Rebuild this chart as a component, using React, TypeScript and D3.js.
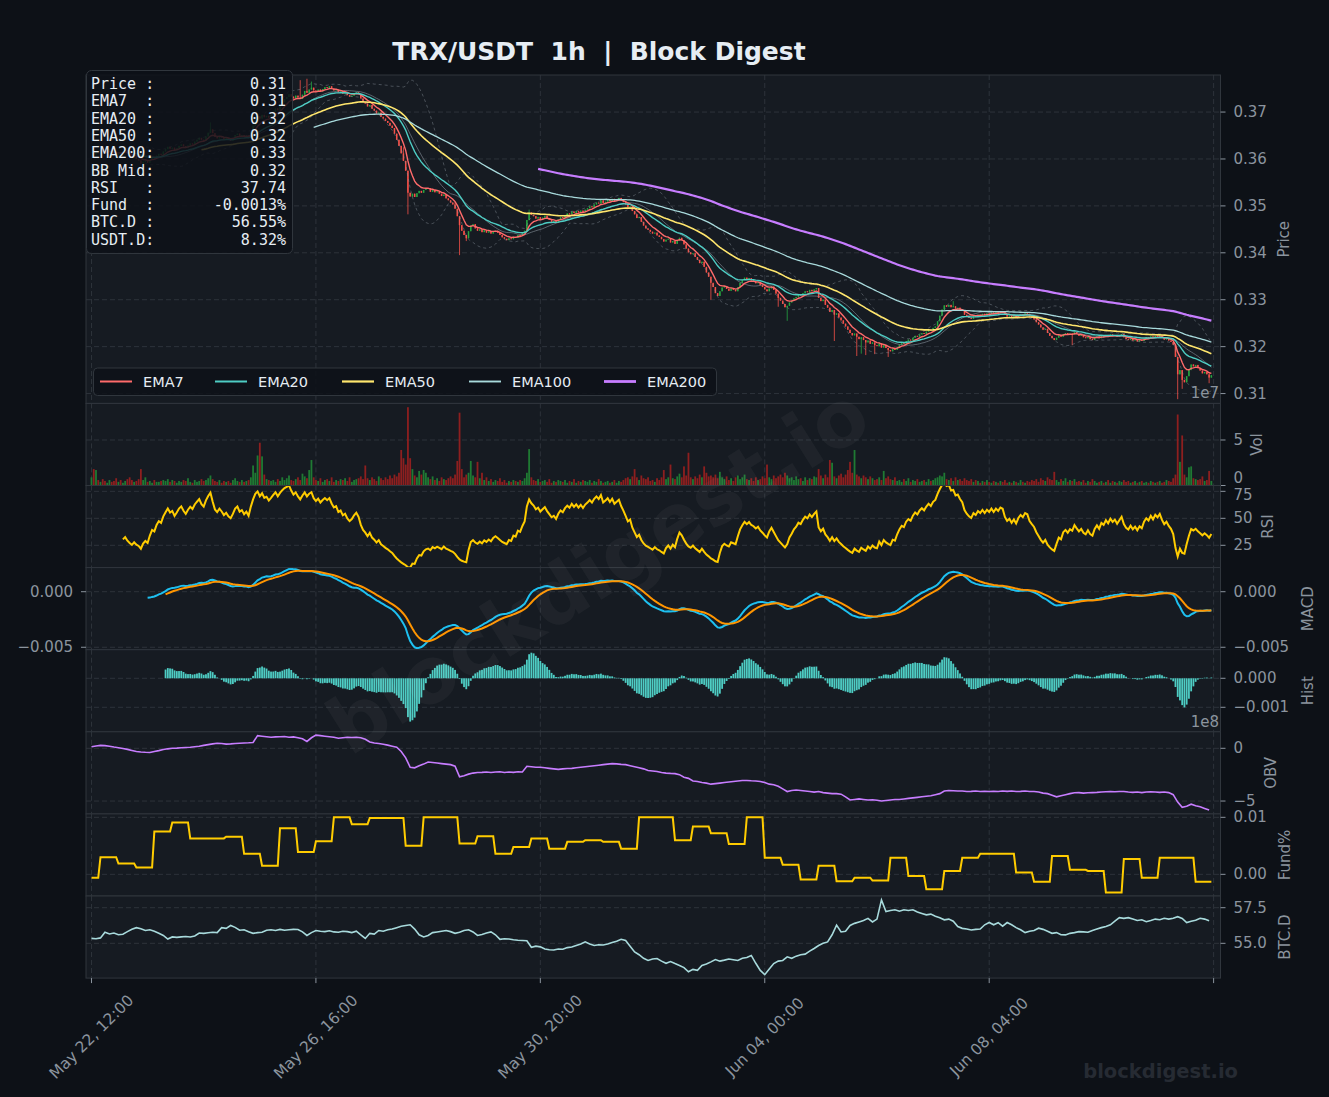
import React from 'react';
import * as d3 from 'd3';

// ---- data (hourly candles, May 22 12:00 -> Jun 12 07:00) ----
const CLOSE = [
  0.3615, 0.3609, 0.3614, 0.3612, 0.3619, 0.3615, 0.3611, 0.3616, 0.3621, 0.3615,
  0.3611, 0.3608, 0.3613, 0.3612, 0.3617, 0.3619, 0.3612, 0.3607, 0.3603, 0.3605,
  0.3600, 0.3597, 0.3590, 0.3594, 0.3596, 0.3592, 0.3598, 0.3603, 0.3601, 0.3607,
  0.3611, 0.3609, 0.3616, 0.3621, 0.3626, 0.3622, 0.3624, 0.3619, 0.3623, 0.3628,
  0.3631, 0.3627, 0.3624, 0.3629, 0.3633, 0.3631, 0.3637, 0.3641, 0.3645, 0.3641,
  0.3639, 0.3648, 0.3656, 0.3663, 0.3655, 0.3647, 0.3644, 0.3649, 0.3646, 0.3642,
  0.3645, 0.3641, 0.3639, 0.3644, 0.3651, 0.3654, 0.3649, 0.3651, 0.3647, 0.3650,
  0.3646, 0.3658, 0.3671, 0.3684, 0.3691, 0.3686, 0.3694, 0.3689, 0.3692, 0.3688,
  0.3694, 0.3701, 0.3708, 0.3704, 0.3713, 0.3721, 0.3728, 0.3732, 0.3738, 0.3733,
  0.3729, 0.3735, 0.3731, 0.3728, 0.3737, 0.3745, 0.3741, 0.3748, 0.3752, 0.3746,
  0.3743, 0.3748, 0.3744, 0.3749, 0.3753, 0.3751, 0.3755, 0.3750, 0.3746, 0.3748,
  0.3742, 0.3744, 0.3739, 0.3741, 0.3736, 0.3733, 0.3735, 0.3739, 0.3742, 0.3738,
  0.3729, 0.3722, 0.3718, 0.3712, 0.3715, 0.3707, 0.3703, 0.3697, 0.3699, 0.3690,
  0.3686, 0.3681, 0.3677, 0.3671, 0.3666, 0.3654, 0.3641, 0.3628, 0.3612, 0.3596,
  0.3575, 0.3528, 0.3520, 0.3526, 0.3519, 0.3527, 0.3532, 0.3528, 0.3534, 0.3537,
  0.3538, 0.3530, 0.3534, 0.3529, 0.3531, 0.3526, 0.3521, 0.3524, 0.3516, 0.3512,
  0.3507, 0.3503, 0.3494, 0.3478, 0.3459, 0.3447, 0.3438, 0.3431, 0.3446, 0.3458,
  0.3461, 0.3452, 0.3447, 0.3450, 0.3444, 0.3448, 0.3443, 0.3446, 0.3441, 0.3445,
  0.3447, 0.3443, 0.3438, 0.3433, 0.3430, 0.3427, 0.3431, 0.3429, 0.3434, 0.3432,
  0.3438, 0.3436, 0.3442, 0.3447, 0.3470, 0.3486, 0.3481, 0.3478, 0.3473, 0.3476,
  0.3471, 0.3475, 0.3479, 0.3474, 0.3470, 0.3466, 0.3468, 0.3464, 0.3471, 0.3476,
  0.3474, 0.3480, 0.3484, 0.3482, 0.3488, 0.3485, 0.3489, 0.3486, 0.3490, 0.3487,
  0.3492, 0.3495, 0.3499, 0.3497, 0.3503, 0.3507, 0.3505, 0.3512, 0.3506, 0.3509,
  0.3513, 0.3510, 0.3515, 0.3511, 0.3514, 0.3517, 0.3512, 0.3508, 0.3503, 0.3497,
  0.3499, 0.3489, 0.3482, 0.3474, 0.3476, 0.3466, 0.3458, 0.3452, 0.3449, 0.3445,
  0.3441, 0.3443, 0.3437, 0.3434, 0.3429, 0.3424, 0.3428, 0.3430, 0.3422, 0.3425,
  0.3419, 0.3426, 0.3432, 0.3427, 0.3418, 0.3409, 0.3401, 0.3397, 0.3399, 0.3391,
  0.3385, 0.3378, 0.3381, 0.3370, 0.3358, 0.3349, 0.3336, 0.3327, 0.3314, 0.3308,
  0.3318, 0.3326, 0.3329, 0.3323, 0.3319, 0.3324, 0.3321, 0.3318, 0.3327, 0.3336,
  0.3342, 0.3347, 0.3343, 0.3346, 0.3341, 0.3339, 0.3335, 0.3337, 0.3331, 0.3327,
  0.3322, 0.3318, 0.3324, 0.3328, 0.3321, 0.3313, 0.3304, 0.3298, 0.3291, 0.3284,
  0.3287, 0.3294, 0.3298, 0.3303, 0.3306, 0.3311, 0.3309, 0.3314, 0.3318, 0.3316,
  0.3321, 0.3318, 0.3322, 0.3325, 0.3304, 0.3297, 0.3300, 0.3289, 0.3283, 0.3274,
  0.3278, 0.3268, 0.3271, 0.3262, 0.3256, 0.3249, 0.3243, 0.3236, 0.3229, 0.3224,
  0.3228, 0.3221, 0.3216, 0.3220, 0.3214, 0.3209, 0.3213, 0.3206, 0.3209, 0.3203,
  0.3201, 0.3207, 0.3198, 0.3203, 0.3197, 0.3193, 0.3190, 0.3195, 0.3193, 0.3199,
  0.3204, 0.3208, 0.3206, 0.3212, 0.3215, 0.3213, 0.3219, 0.3223, 0.3221, 0.3226,
  0.3229, 0.3227, 0.3232, 0.3236, 0.3234, 0.3240, 0.3243, 0.3254, 0.3266, 0.3279,
  0.3288, 0.3285, 0.3289, 0.3284, 0.3286, 0.3281, 0.3283, 0.3279, 0.3276, 0.3268,
  0.3264, 0.3261, 0.3259, 0.3265, 0.3263, 0.3268, 0.3266, 0.3270, 0.3267, 0.3271,
  0.3269, 0.3273, 0.3270, 0.3274, 0.3272, 0.3276, 0.3275, 0.3268, 0.3264, 0.3266,
  0.3262, 0.3265, 0.3261, 0.3266, 0.3269, 0.3267, 0.3271, 0.3270, 0.3264, 0.3261,
  0.3258, 0.3252, 0.3247, 0.3241, 0.3236, 0.3238, 0.3229, 0.3223, 0.3218, 0.3214,
  0.3219, 0.3224, 0.3221, 0.3227, 0.3229, 0.3225, 0.3228, 0.3226, 0.3231, 0.3227,
  0.3223, 0.3225, 0.3220, 0.3218, 0.3221, 0.3216, 0.3214, 0.3219, 0.3222, 0.3218,
  0.3223, 0.3221, 0.3225, 0.3222, 0.3226, 0.3223, 0.3225, 0.3221, 0.3224, 0.3227,
  0.3220, 0.3216, 0.3214, 0.3217, 0.3213, 0.3215, 0.3211, 0.3214, 0.3212, 0.3217,
  0.3220, 0.3218, 0.3222, 0.3219, 0.3223, 0.3221, 0.3224, 0.3219, 0.3215, 0.3217,
  0.3213, 0.3210, 0.3204, 0.3178, 0.3141, 0.3150, 0.3129, 0.3124, 0.3137, 0.3150,
  0.3162, 0.3158, 0.3161, 0.3154, 0.3149, 0.3143, 0.3146, 0.3141, 0.3134, 0.3139,
];

// volume in millions
const VOLUME_M = [
  9, 18, 17, 6, 4, 7, 5, 3, 6, 4,
  5, 8, 4, 6, 3, 5, 7, 9, 6, 4,
  5, 7, 18, 6, 9, 4, 5, 3, 6, 4,
  4, 5, 6, 5, 7, 4, 6, 5, 3, 5,
  4, 6, 5, 8, 4, 3, 6, 4, 5, 7,
  5, 6, 8, 11, 7, 5, 4, 6, 3, 5,
  4, 5, 3, 6, 8, 5, 4, 6, 4, 5,
  6, 9, 22, 14, 33, 47, 32, 12, 7, 6,
  5, 6, 4, 7, 5, 9, 6, 8, 11, 6,
  5, 7, 9, 6, 13, 10, 8, 17, 28, 9,
  6, 5, 8, 4, 6, 7, 5, 9, 4, 6,
  5, 7, 6, 8, 5, 9, 4, 6, 7, 8,
  10, 7, 22, 8, 6, 9, 7, 5, 10, 8,
  6, 9, 7, 11, 8, 12, 10, 14, 39, 30,
  23, 86, 30, 18, 11, 9, 16, 12, 17, 14,
  9, 7, 10, 6, 8, 5, 9, 7, 6, 8,
  10, 8, 12, 27, 80, 18, 9, 12, 14, 27,
  11, 9, 26, 8, 14, 6, 9, 5, 7, 4,
  6, 5, 8, 4, 6, 3, 5, 4, 6, 5,
  4, 6, 5, 8, 14, 40, 9, 6, 5, 7,
  4, 5, 6, 4, 7, 3, 5, 4, 6, 5,
  4, 6, 3, 5, 4, 7, 3, 5, 4, 6,
  5, 4, 6, 3, 5, 4, 7, 5, 3, 4,
  5, 3, 4, 6, 3, 5, 4, 6, 8, 9,
  7, 10, 18, 9, 6, 11, 8, 7, 9, 5,
  6, 4, 8, 6, 9, 17, 7, 9, 23, 8,
  7, 10, 13, 9, 21, 11, 36, 9, 7, 10,
  8, 12, 9, 21, 14, 10, 11, 9, 12, 8,
  15, 9, 7, 10, 6, 8, 5, 9, 11, 7,
  9, 12, 7, 6, 8, 5, 9, 6, 7, 10,
  8, 23, 9, 7, 11, 8, 10, 12, 9, 14,
  11, 8, 9, 6, 10, 7, 8, 5, 9, 6,
  8, 7, 10, 9, 18, 11, 8, 12, 9, 28,
  25, 10, 8, 11, 13, 9, 12, 17, 26, 14,
  39, 12, 10, 8, 11, 9, 7, 10, 8, 6,
  7, 9, 6, 16, 8, 10, 7, 6, 9, 5,
  6, 4, 7, 5, 8, 4, 6, 5, 7, 4,
  5, 6, 4, 7, 5, 6, 8, 9, 11, 10,
  14, 7, 6, 8, 5, 9, 6, 7, 5, 8,
  6, 5, 7, 4, 6, 5, 3, 5, 4, 6,
  4, 3, 5, 4, 3, 5, 4, 6, 3, 4,
  3, 5, 4, 3, 6, 4, 3, 5, 4, 6,
  5, 7, 4, 8, 6, 5, 9, 7, 6, 15,
  6, 4, 7, 5, 8, 4, 6, 5, 7, 4,
  5, 4, 6, 3, 5, 4, 7, 5, 3, 4,
  5, 3, 4, 6, 3, 5, 4, 3, 5, 4,
  6, 4, 5, 3, 4, 5, 3, 4, 5, 3,
  4, 3, 5, 4, 3, 4, 5, 3, 4, 6,
  5, 4, 8, 12, 78, 26, 55, 12, 9, 20,
  21, 8, 7, 6, 7, 10, 5, 6, 16, 5,
];

// notable wicks: [hour, price]
const WICK_HIGH: [number, number][] = [
  [53, 0.3678], [93, 0.3768], [96, 0.3771], [98, 0.3765], [139, 0.3625], [162, 0.3508], [195, 0.3492], [384, 0.3297],
];
const WICK_LOW: [number, number][] = [
  [141, 0.3482], [164, 0.3395], [167, 0.3425], [276, 0.3300], [306, 0.3285], [310, 0.3255], [331, 0.3212],
  [341, 0.3180], [343, 0.3185], [345, 0.3182], [349, 0.3184], [355, 0.3178], [437, 0.3203], [484, 0.3088],
  [486, 0.3110], [498, 0.3122],
];

// funding rate in %, one value per 8h window (first window = first 4 hours)
const FUNDING_8H = [
  -0.0006, 0.0030, 0.0019, 0.0012, 0.0075, 0.0091, 0.0063, 0.0063, 0.0066, 0.0036,
  0.0015, 0.0081, 0.0039, 0.0058, 0.0100, 0.0088, 0.0099, 0.0099, 0.0050, 0.0100,
  0.0100, 0.0054, 0.0067, 0.0036, 0.0048, 0.0063, 0.0045, 0.0057, 0.0060, 0.0057,
  0.0045, 0.0100, 0.0100, 0.0060, 0.0084, 0.0072, 0.0053, 0.0100, 0.0029, 0.0017,
  -0.0009, 0.0015, -0.0012, -0.0006, -0.0011, 0.0029, -0.0003, -0.0026, 0.0006, 0.0029,
  0.0036, 0.0036, 0.0003, -0.0013, 0.0032, 0.0008, 0.0006, -0.0032, 0.0027, -0.0006,
  0.0029, 0.0029, -0.0013,
];

// OBV (x1e8), every 2 hours
const OBV_2H = [
  0.15, 0.22, 0.28, 0.25, 0.2, 0.12, 0.05, -0.02, -0.1, -0.2,
  -0.3, -0.35, -0.38, -0.4, -0.3, -0.22, -0.12, -0.05, 0.0, 0.02,
  0.05, 0.08, 0.1, 0.15, 0.2, 0.28, 0.35, 0.42, 0.48, 0.45,
  0.4, 0.42, 0.45, 0.48, 0.5, 0.52, 0.55, 1.2, 1.15, 1.1,
  1.05, 1.08, 1.1, 1.12, 1.05, 1.08, 1.0, 0.9, 0.65, 1.0,
  1.25, 1.2, 1.15, 1.1, 1.05, 0.95, 1.0, 1.05, 1.02, 1.05,
  1.0, 0.85, 0.6, 0.5, 0.45, 0.38, 0.3, 0.2, 0.1, -0.3,
  -0.9, -1.8, -1.85, -1.65, -1.5, -1.3, -1.35, -1.4, -1.45, -1.5,
  -1.55, -1.7, -2.7, -2.6, -2.45, -2.35, -2.3, -2.28, -2.25, -2.3,
  -2.25, -2.22, -2.3, -2.25, -2.28, -2.22, -2.25, -1.7, -1.75, -1.8,
  -1.8, -1.85, -1.9, -1.95, -2.0, -1.95, -1.92, -1.9, -1.85, -1.8,
  -1.75, -1.7, -1.65, -1.6, -1.55, -1.5, -1.45, -1.48, -1.52, -1.55,
  -1.65, -1.75, -1.85, -1.95, -2.1, -2.15, -2.2, -2.3, -2.35, -2.38,
  -2.4, -2.5, -2.75, -2.85, -3.1, -3.15, -3.25, -3.3, -3.4, -3.35,
  -3.3, -3.25, -3.2, -3.15, -3.1, -3.05, -3.05, -3.08, -3.1, -3.15,
  -3.25, -3.4, -3.45, -3.6, -3.85, -4.1, -4.0, -3.95, -4.0, -4.05,
  -4.1, -4.15, -4.1, -4.2, -4.25, -4.3, -4.3, -4.35, -4.6, -4.9,
  -4.85, -4.8, -4.85, -4.9, -4.88, -4.92, -5.0, -4.95, -4.9, -4.85,
  -4.85, -4.8, -4.75, -4.7, -4.65, -4.6, -4.55, -4.5, -4.4, -4.3,
  -4.05, -4.0, -4.02, -4.05, -4.05, -4.1, -4.08, -4.05, -4.1, -4.08,
  -4.1, -4.08, -4.1, -4.05, -4.08, -4.05, -4.1, -4.08, -4.05, -4.1,
  -4.1, -4.15, -4.25, -4.3, -4.45, -4.6, -4.5, -4.4, -4.3, -4.22,
  -4.2, -4.25, -4.22, -4.2, -4.18, -4.15, -4.12, -4.1, -4.12, -4.1,
  -4.1, -4.15, -4.18, -4.15, -4.2, -4.15, -4.12, -4.15, -4.18, -4.15,
  -4.2, -4.4, -5.1, -5.6, -5.5, -5.3, -5.45, -5.55, -5.7, -5.85,
];

// BTC dominance (%), every 2 hours
const BTC_D_2H = [
  55.35, 55.32, 55.38, 55.78, 55.66, 55.72, 55.6, 55.64, 55.82, 55.98,
  56.1, 56.02, 55.9, 55.95, 55.84, 55.7, 55.55, 55.3, 55.45, 55.42,
  55.45, 55.48, 55.44, 55.52, 55.72, 55.7, 55.74, 55.78, 55.75, 56.1,
  56.05, 56.25, 56.12, 55.92, 55.95, 55.82, 55.7, 55.75, 55.78, 55.92,
  55.95, 55.9, 55.98, 55.92, 55.95, 55.98, 55.97, 55.8, 55.55, 55.75,
  55.9, 55.85, 55.82, 55.88, 55.8, 55.78, 55.85, 55.82, 55.75, 55.85,
  55.6, 55.34, 55.7, 55.65, 55.9, 55.85, 55.95, 56.0, 56.1, 56.2,
  56.25, 56.3, 56.0, 55.6, 55.45, 55.55, 55.75, 55.8, 55.85, 55.9,
  55.82, 55.7, 55.78, 55.9, 55.95, 55.8, 55.55, 55.62, 55.72, 55.8,
  55.6, 55.28, 55.32, 55.3, 55.25, 55.22, 55.2, 55.18, 54.72, 54.8,
  54.75, 54.6, 54.55, 54.53, 54.6, 54.58, 54.7, 54.74, 54.85, 54.95,
  55.1, 54.95, 54.85, 54.9, 54.88, 54.95, 55.05, 55.15, 55.28, 55.2,
  54.8, 54.4, 54.2, 53.95, 53.8, 53.9, 53.93, 53.75, 53.6, 53.72,
  53.58, 53.45, 53.3, 53.0, 53.17, 53.1, 53.45, 53.55, 53.7, 53.86,
  53.75, 53.82, 53.9, 53.85, 53.8, 53.95, 54.0, 54.15, 53.6, 53.1,
  52.8, 53.2, 53.58, 53.75, 53.8, 54.05, 53.95, 54.1, 54.2, 54.24,
  54.45, 54.64, 54.85, 55.0, 55.1, 55.6, 56.28, 55.8, 55.85, 56.25,
  56.4, 56.5, 56.6, 56.75, 56.5, 56.7, 58.05, 57.23, 57.3, 57.35,
  57.25, 57.35, 57.3, 57.35, 57.2, 57.1, 57.0, 57.05, 56.9, 56.8,
  56.65, 56.7, 56.55, 56.18, 56.05, 56.0, 55.94, 55.98, 56.0, 56.3,
  56.46, 56.3, 56.45, 56.2, 56.46, 56.3, 56.1, 55.95, 55.75, 55.85,
  55.9, 56.06, 55.98, 55.85, 55.7, 55.75, 55.6, 55.59, 55.7, 55.75,
  55.82, 55.8, 55.78, 55.9, 56.0, 56.1, 56.18, 56.3, 56.55, 56.8,
  56.75, 56.8, 56.7, 56.6, 56.65, 56.52, 56.6, 56.7, 56.65, 56.76,
  56.7, 56.76, 56.87, 56.75, 56.46, 56.55, 56.62, 56.76, 56.7, 56.58,
];

const X_TICK_HOURS = [0, 100, 200, 300, 400, 500];
const X_TICK_LABELS = ['May 22, 12:00', 'May 26, 16:00', 'May 30, 20:00', 'Jun 04, 00:00', 'Jun 08, 04:00', ''];

const INFO_LABELS = ['Price :', 'EMA7  :', 'EMA20 :', 'EMA50 :', 'EMA200:', 'BB Mid:', 'RSI   :', 'Fund  :', 'BTC.D :', 'USDT.D:'];
const INFO_VALUES = ['0.31', '0.31', '0.32', '0.32', '0.33', '0.32', '37.74', '-0.0013%', '56.55%', '8.32%'];

const EMA_NAMES = ['EMA7', 'EMA20', 'EMA50', 'EMA100', 'EMA200'];
const EMA_SPANS = [7, 20, 50, 100, 200];

// ---- style ----
const W = 1329;
const H = 1097;
const BG = '#0d1117';
const PANEL_BG = '#161b22';
const GRID = '#30363d';
const TICK = '#8b949e';
const UP = '#26a641';
const DOWN = '#f85149';
const VOL_UP = '#1f7a33';
const VOL_DOWN = '#8e1f1f';
const EMA_COLORS = ['#ff6b6b', '#4ecdc4', '#ffe66d', '#a8dadc', '#c77dff'];
const EMA_WIDTHS = [1.4, 1.4, 1.6, 1.3, 2.2];
const FONT = 'DejaVu Sans';

const X0 = 86;
const X1 = 1220.5;
const Y0 = 75;
const UNIT = 82.1;

const PANELS = [
  { id: 'price', label: 'Price', span: 4, domain: [0.3079, 0.3779], ticks: [0.31, 0.32, 0.33, 0.34, 0.35, 0.36, 0.37], fmt: d3.format('.2f'), labelX: 1284 },
  { id: 'vol', label: 'Vol', span: 1, domain: [0, 90.2], ticks: [0, 50], fmt: (v: number) => String(v / 10), labelX: 1257 },
  { id: 'rsi', label: 'RSI', span: 1, domain: [4.35, 80.4], ticks: [25, 50, 75], fmt: d3.format('d'), labelX: 1268 },
  { id: 'macd', label: 'MACD', span: 1, domain: [-0.00522, 0.00217], ticks: [-0.005, 0], fmt: d3.format('.3f'), labelX: 1308 },
  { id: 'hist', label: 'Hist', span: 1, domain: [-0.001845, 0.000986], ticks: [-0.001, 0], fmt: d3.format('.3f'), labelX: 1308 },
  { id: 'obv', label: 'OBV', span: 1, domain: [-6.22, 1.565], ticks: [-5, 0], fmt: d3.format('d'), labelX: 1271 },
  { id: 'fund', label: 'Fund%', span: 1, domain: [-0.0038, 0.0106], ticks: [0, 0.01], fmt: d3.format('.2f'), labelX: 1285 },
  { id: 'btc', label: 'BTC.D', span: 1, domain: [52.56, 58.32], ticks: [55, 57.5], fmt: d3.format('.1f'), labelX: 1285 },
];

// label nudges where the vol "0" meets the RSI "75"
const LABEL_NUDGE: Record<string, number> = { 'vol:0': -8, 'rsi:75': 4 };

type Series = (number | null)[];

function ema(src: Series, span: number): Series {
  const a = 2 / (span + 1);
  let prev: number | null = null;
  let count = 0;
  return src.map((v) => {
    if (v == null) return null;
    prev = prev == null ? v : a * v + (1 - a) * prev;
    count += 1;
    return count >= span ? prev : null;
  });
}

function rsi(c: number[], n = 14): Series {
  let ag = 0;
  let al = 0;
  return c.map((v, i) => {
    if (i === 0) return null;
    const d = v - c[i - 1];
    const g = Math.max(d, 0);
    const l = Math.max(-d, 0);
    if (i === 1) { ag = g; al = l; } else { ag += (g - ag) / n; al += (l - al) / n; }
    if (i < n) return null;
    return al === 0 ? 100 : 100 - 100 / (1 + ag / al);
  });
}

export default function App() {
  const n = CLOSE.length;
  const hours = d3.range(n);
  const x = d3.scaleLinear().domain([-2.45, 503.07]).range([X0, X1]);

  let cursor = Y0;
  const panels = PANELS.map((p) => {
    const top = cursor;
    cursor += p.span * UNIT;
    const y = d3.scaleLinear().domain(p.domain).range([cursor, top]);
    return { ...p, top, bottom: cursor, y };
  });
  const P: Record<string, (typeof panels)[number]> = Object.fromEntries(panels.map((p) => [p.id, p]));

  // candles
  const open = CLOSE.map((c, i) => (i === 0 ? c : CLOSE[i - 1]));
  const hiMap = new Map(WICK_HIGH);
  const loMap = new Map(WICK_LOW);
  const high = CLOSE.map((c, i) => Math.max(c, open[i], hiMap.get(i) ?? 0));
  const low = CLOSE.map((c, i) => Math.min(c, open[i], loMap.get(i) ?? Infinity));

  // indicators
  const emas = EMA_SPANS.map((s) => ema(CLOSE, s));
  const bb = hours.map((i) => {
    if (i < 19) return null;
    const w = CLOSE.slice(i - 19, i + 1);
    const m = d3.mean(w)!;
    const sd = Math.sqrt(d3.mean(w, (v) => (v - m) ** 2)!);
    return { m, up: m + 2 * sd, lo: m - 2 * sd };
  });
  const e12 = ema(CLOSE, 12);
  const e26 = ema(CLOSE, 26);
  const macd: Series = hours.map((i) => (e12[i] != null && e26[i] != null ? (e12[i] as number) - (e26[i] as number) : null));
  const signal = ema(macd, 9);
  const hist: Series = hours.map((i) => (macd[i] != null && signal[i] != null ? (macd[i] as number) - (signal[i] as number) : null));
  const rsiS = rsi(CLOSE);
  const funding = hours.map((i) => FUNDING_8H[i < 4 ? 0 : 1 + Math.floor((i - 4) / 8)]);

  const hourLine = (y: d3.ScaleLinear<number, number>) =>
    d3.line<number | null>().defined((v) => v != null).x((_, i) => x(i)).y((v) => y(v as number));
  const twoHourLine = (y: d3.ScaleLinear<number, number>) =>
    d3.line<number>().x((_, k) => x(k * 2)).y((v) => y(v));

  const bw = 1.5;
  const barW = 1.8;
  const yP = P.price.y;

  const content: Record<string, React.ReactNode> = {
    price: (
      <g>
        {hours.map((i) => {
          const o = open[i];
          const c = CLOSE[i];
          const col = c >= o ? UP : DOWN;
          const yt = yP(Math.max(o, c));
          const yb = yP(Math.min(o, c));
          return (
            <g key={i}>
              <line x1={x(i)} x2={x(i)} y1={yP(high[i])} y2={yP(low[i])} stroke={col} strokeWidth={0.8} />
              <rect x={x(i) - bw / 2} y={yt} width={bw} height={Math.max(yb - yt, 0.8)} fill={col} />
            </g>
          );
        })}
        <path d={hourLine(yP)(bb.map((b) => (b ? b.up : null)))!} fill="none" stroke={TICK} strokeOpacity={0.5} strokeWidth={0.9} strokeDasharray="3 3" />
        <path d={hourLine(yP)(bb.map((b) => (b ? b.lo : null)))!} fill="none" stroke={TICK} strokeOpacity={0.5} strokeWidth={0.9} strokeDasharray="3 3" />
        <path d={hourLine(yP)(bb.map((b) => (b ? b.m : null)))!} fill="none" stroke={TICK} strokeOpacity={0.6} strokeWidth={1} />
        {emas.map((s, k) => (
          <path key={k} d={hourLine(yP)(s)!} fill="none" stroke={EMA_COLORS[k]} strokeWidth={EMA_WIDTHS[k]} />
        ))}
      </g>
    ),
    vol: (
      <g>
        {hours.map((i) => (
          <rect key={i} x={x(i) - barW / 2} y={P.vol.y(VOLUME_M[i])} width={barW}
            height={P.vol.y(0) - P.vol.y(VOLUME_M[i])} fill={CLOSE[i] >= open[i] ? VOL_UP : VOL_DOWN} />
        ))}
      </g>
    ),
    rsi: <path d={hourLine(P.rsi.y)(rsiS)!} fill="none" stroke="#ffcc00" strokeWidth={2} />,
    macd: (
      <g>
        <path d={hourLine(P.macd.y)(macd)!} fill="none" stroke="#1ec0f0" strokeWidth={2} />
        <path d={hourLine(P.macd.y)(signal)!} fill="none" stroke="#ff9500" strokeWidth={2} />
      </g>
    ),
    hist: (
      <g>
        {hours.filter((i) => hist[i] != null).map((i) => {
          const v = hist[i] as number;
          const y0 = P.hist.y(0);
          const y1 = P.hist.y(v);
          return <rect key={i} x={x(i) - barW / 2} y={Math.min(y0, y1)} width={barW} height={Math.abs(y1 - y0)} fill="#4ecdc4" />;
        })}
      </g>
    ),
    obv: <path d={twoHourLine(P.obv.y)(OBV_2H)!} fill="none" stroke="#c77dff" strokeWidth={1.6} />,
    fund: <path d={hourLine(P.fund.y)(funding)!} fill="none" stroke="#ffcc00" strokeWidth={2} />,
    btc: <path d={twoHourLine(P.btc.y)(BTC_D_2H)!} fill="none" stroke="#a8dadc" strokeWidth={1.6} />,
  };

  const legendX = [100, 215, 342, 469, 604];

  return (
    <svg width={W} height={H} viewBox={`0 0 ${W} ${H}`} style={{ display: 'block', position: 'absolute', left: 0, top: 0 }}>
      <rect width={W} height={H} fill={BG} />
      <defs>
        {panels.map((p) => (
          <clipPath key={p.id} id={`clip-${p.id}`}>
            <rect x={X0} y={p.top} width={X1 - X0} height={p.bottom - p.top} />
          </clipPath>
        ))}
      </defs>

      {panels.map((p) => (
        <g key={p.id}>
          <rect x={X0} y={p.top} width={X1 - X0} height={p.bottom - p.top} fill={PANEL_BG} />
          {p.ticks.map((t) => (
            <line key={t} x1={X0} x2={X1} y1={p.y(t)} y2={p.y(t)} stroke={GRID} strokeWidth={0.9} strokeDasharray="5 3" />
          ))}
          {X_TICK_HOURS.map((h) => (
            <line key={h} x1={x(h)} x2={x(h)} y1={p.top} y2={p.bottom} stroke={GRID} strokeWidth={0.9} strokeDasharray="5 3" />
          ))}
          <g clipPath={`url(#clip-${p.id})`}>{content[p.id]}</g>
          <rect x={X0} y={p.top} width={X1 - X0} height={p.bottom - p.top} fill="none" stroke={GRID} strokeWidth={1} />
          {p.ticks.map((t) => (
            <g key={t}>
              <line x1={X1} x2={X1 + 5} y1={p.y(t)} y2={p.y(t)} stroke={TICK} strokeWidth={1} />
              <text x={X1 + 13} y={p.y(t) + (LABEL_NUDGE[`${p.id}:${t}`] ?? 0)} dominantBaseline="central" fill={TICK} fontSize={15} fontFamily={FONT}>{p.fmt(t)}</text>
            </g>
          ))}
          {p.id === 'macd' && p.ticks.map((t) => (
            <g key={`l${t}`}>
              <line x1={X0 - 5} x2={X0} y1={p.y(t)} y2={p.y(t)} stroke={TICK} strokeWidth={1} />
              <text x={X0 - 13} y={p.y(t)} dominantBaseline="central" textAnchor="end" fill={TICK} fontSize={15} fontFamily={FONT}>{p.fmt(t)}</text>
            </g>
          ))}
          <text transform={`translate(${p.labelX},${(p.top + p.bottom) / 2}) rotate(-90)`} textAnchor="middle" dominantBaseline="central"
            fill={TICK} fontSize={15} fontFamily={FONT}>{p.label}</text>
        </g>
      ))}

      <text x={1219} y={398} textAnchor="end" fill={TICK} fontSize={15} fontFamily={FONT}>1e7</text>
      <text x={1219} y={727} textAnchor="end" fill={TICK} fontSize={15} fontFamily={FONT}>1e8</text>

      {/* x axis */}
      {X_TICK_HOURS.map((h, k) => (
        <g key={h}>
          <line x1={x(h)} x2={x(h)} y1={P.btc.bottom} y2={P.btc.bottom + 5} stroke={TICK} strokeWidth={1} />
          <text transform={`translate(${x(h)},1037) rotate(-45)`} textAnchor="middle" dominantBaseline="central"
            fill={TICK} fontSize={15.5} fontFamily={FONT}>{X_TICK_LABELS[k]}</text>
        </g>
      ))}

      {/* legend */}
      <rect x={93.5} y={368} width={623} height={27.5} rx={4} fill={BG} fillOpacity={0.85} stroke={GRID} />
      {EMA_NAMES.map((name, k) => (
        <g key={name}>
          <line x1={legendX[k]} x2={legendX[k] + 32} y1={381.5} y2={381.5} stroke={EMA_COLORS[k]} strokeWidth={EMA_WIDTHS[k] + 0.6} />
          <text x={legendX[k] + 43} y={381.5} dominantBaseline="central" fill="#e6edf3" fontSize={14.5} fontFamily={FONT}>{name}</text>
        </g>
      ))}

      {/* info box */}
      <rect x={86.5} y={70.5} width={206} height={183} rx={5} fill={BG} fillOpacity={0.85} stroke={GRID} />
      {INFO_LABELS.map((lab, k) => (
        <g key={lab} fontFamily="DejaVu Sans Mono" fontSize={15} fill="#e6edf3">
          <text x={91} y={89 + k * 17.3} style={{ whiteSpace: 'pre' }}>{lab}</text>
          <text x={286} y={89 + k * 17.3} textAnchor="end">{INFO_VALUES[k]}</text>
        </g>
      ))}

      {/* title */}
      <text x={599} y={60} textAnchor="middle" fill="#e6edf3" fontSize={25} fontWeight="bold" fontFamily={FONT} style={{ whiteSpace: 'pre' }}>
        {'TRX/USDT  1h  |  Block Digest'}
      </text>

      {/* watermarks */}
      <text transform="translate(598,570) rotate(-32)" textAnchor="middle" dominantBaseline="central" fill="#ffffff" fillOpacity={0.04}
        fontSize={78} fontWeight="bold" fontFamily={FONT}>blockdigest.io</text>
      <text x={1238} y={1078} textAnchor="end" fill="#262b33" fontSize={19.5} fontWeight="bold" fontFamily={FONT}>blockdigest.io</text>
    </svg>
  );
}
